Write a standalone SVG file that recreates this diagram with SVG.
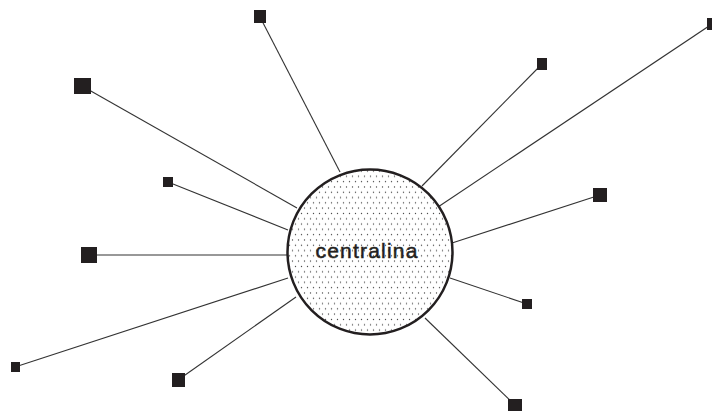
<svg xmlns="http://www.w3.org/2000/svg" width="712" height="411" viewBox="0 0 712 411">
<style>
.c{stroke:#333;stroke-width:1.1;fill:none}
.n{fill:#231f20}
.t{font-family:"Liberation Sans",Arial,sans-serif;font-size:21px;fill:#231f20;stroke:#231f20;stroke-width:0.5;letter-spacing:1.2px}
</style>
<defs>
<pattern id="dots" width="6" height="10.6" patternUnits="userSpaceOnUse">
<circle cx="1.5" cy="1.5" r="0.7" fill="#444"/>
<circle cx="4.5" cy="6.8" r="0.7" fill="#444"/>
</pattern>
</defs>
<rect width="712" height="411" fill="#fff"/>
<g id="connectors">
<line class="c" x1="260" y1="17" x2="340" y2="172"/>
<line class="c" x1="82" y1="86" x2="297" y2="208"/>
<line class="c" x1="168" y1="182" x2="288" y2="230"/>
<line class="c" x1="89" y1="255" x2="287" y2="255"/>
<line class="c" x1="15" y1="367" x2="288" y2="278"/>
<line class="c" x1="178" y1="380" x2="296" y2="297"/>
<line class="c" x1="515" y1="405" x2="425" y2="318"/>
<line class="c" x1="527" y1="304" x2="450" y2="278"/>
<line class="c" x1="600" y1="195" x2="452" y2="243"/>
<line class="c" x1="542" y1="64" x2="422" y2="186"/>
<line class="c" x1="712" y1="24" x2="438" y2="207"/>
</g>
<g id="centralina">
<circle cx="370" cy="252" r="82.5" fill="url(#dots)" stroke="#231f20" stroke-width="2.5"/>
<text class="t" x="367" y="258" text-anchor="middle">centralina</text>
</g>
<g id="n1"><rect class="n" x="254" y="10" width="12" height="13"/></g>
<g id="n2"><rect class="n" x="74" y="78" width="17" height="16"/></g>
<g id="n3"><rect class="n" x="163" y="177" width="10" height="10"/></g>
<g id="n4"><rect class="n" x="81" y="247" width="16" height="16"/></g>
<g id="n5"><rect class="n" x="11" y="362" width="9" height="10"/></g>
<g id="n6"><rect class="n" x="172" y="373" width="13" height="14"/></g>
<g id="n7"><rect class="n" x="508" y="399" width="14" height="12"/></g>
<g id="n8"><rect class="n" x="522" y="299" width="10" height="10"/></g>
<g id="n9"><rect class="n" x="593" y="188" width="14" height="14"/></g>
<g id="n10"><rect class="n" x="537" y="58" width="10" height="12"/></g>
<g id="n11"><rect class="n" x="707" y="18" width="8" height="12"/></g>
</svg>
